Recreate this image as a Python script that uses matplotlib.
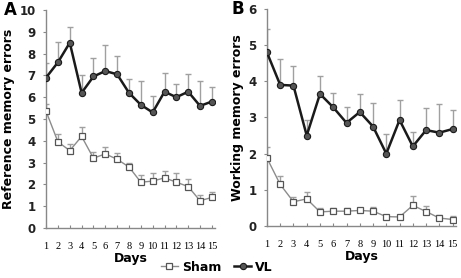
import matplotlib.pyplot as plt
import numpy as np

days = np.arange(1, 16)

ref_vl = [6.9, 7.6, 8.5, 6.2, 6.95, 7.2, 7.05, 6.2, 5.65, 5.3, 6.25, 6.0, 6.25, 5.6, 5.8]
ref_vl_err = [0.65, 0.95, 0.7, 0.8, 0.85, 1.2, 0.85, 0.65, 1.1, 0.75, 0.85, 0.6, 0.8, 1.15, 0.65]
ref_sham = [5.35, 3.95, 3.55, 4.2, 3.2, 3.4, 3.15, 2.8, 2.1, 2.15, 2.3, 2.1, 1.9, 1.25, 1.4]
ref_sham_err = [0.35, 0.35, 0.3, 0.45, 0.3, 0.3, 0.3, 0.2, 0.35, 0.35, 0.3, 0.4, 0.35, 0.25, 0.25]

work_vl = [4.8, 3.9, 3.88, 2.5, 3.65, 3.28, 2.85, 3.15, 2.75, 2.0, 2.93, 2.2, 2.65, 2.58, 2.68]
work_vl_err = [0.65, 0.72, 0.55, 0.43, 0.5, 0.4, 0.45, 0.5, 0.65, 0.55, 0.55, 0.4, 0.6, 0.8, 0.52]
work_sham = [1.88, 1.15, 0.67, 0.75, 0.39, 0.41, 0.41, 0.43, 0.41, 0.26, 0.25, 0.57, 0.4, 0.22, 0.18]
work_sham_err = [0.3, 0.22, 0.12, 0.18, 0.1, 0.08, 0.1, 0.08, 0.12, 0.0, 0.0, 0.25, 0.15, 0.08, 0.1]

fig = plt.figure(figsize=(4.61, 2.78), dpi=100)
ax_a = fig.add_axes([0.1, 0.18, 0.366, 0.784])
ax_b = fig.add_axes([0.579, 0.187, 0.41, 0.781])

err_color = '#a0a0a0'


def draw_panel(ax, sham, sham_err, vl, vl_err, ymax, ylabel, letter):
    zeros = np.zeros(len(days))
    ax.errorbar(days, vl, yerr=[zeros, vl_err], fmt='none', ecolor=err_color,
                elinewidth=1.0, capsize=2.5, capthick=1.0, zorder=1)
    ax.errorbar(days, sham, yerr=[zeros, sham_err], fmt='none', ecolor=err_color,
                elinewidth=1.0, capsize=2.5, capthick=1.0, zorder=1)
    ax.plot(days, sham, color='#8c8c8c', lw=1.0, marker='s', ms=5,
            mfc='white', mec='#555555', mew=0.9, label='Sham', zorder=3)
    ax.plot(days, vl, color='#1a1a1a', lw=1.8, marker='o', ms=4.5,
            mfc='#555555', mec='#1a1a1a', mew=0.8, label='VL', zorder=4)
    ax.set_xlim(1, 15.25)
    ax.set_ylim(0, ymax)
    ax.set_xticks(days)
    ax.set_yticks(range(0, ymax + 1))
    for s in ['top', 'right']:
        ax.spines[s].set_visible(False)
    for s in ['left', 'bottom']:
        ax.spines[s].set_color('#888888')
        ax.spines[s].set_linewidth(1.0)
    ax.tick_params(axis='x', direction='in', length=2.5, color='#888888',
                   pad=10, labelsize=7.5)
    ax.tick_params(axis='y', direction='out', length=2.5, color='#888888',
                   pad=5, labelsize=8.5)
    for t in ax.get_xticklabels():
        t.set_family('Liberation Serif')
    for t in ax.get_yticklabels():
        t.set_fontweight('bold')
        t.set_color('#222222')
    ax.set_xlabel('Days', fontsize=9, fontweight='bold', labelpad=1)
    ax.set_ylabel(ylabel, fontsize=9, fontweight='bold', labelpad=3)
    ax.text(-0.25, 1.0, letter, transform=ax.transAxes, fontsize=12,
            fontweight='bold', va='center', ha='left')


draw_panel(ax_a, ref_sham, ref_sham_err, ref_vl, ref_vl_err, 10,
           'Reference memory errors', 'A')
draw_panel(ax_b, work_sham, work_sham_err, work_vl, work_vl_err, 6,
           'Working memory errors', 'B')
ax_b.texts[0].set_x(-0.19)

handles, labels = ax_a.get_legend_handles_labels()
fig.legend(handles, labels, loc='lower center', bbox_to_anchor=(0.47, -0.025),
           ncol=2, frameon=False, handlelength=1.4, handletextpad=0.3,
           columnspacing=1.0, prop={'weight': 'bold', 'size': 9})

fig.savefig('out.png', dpi=100)
